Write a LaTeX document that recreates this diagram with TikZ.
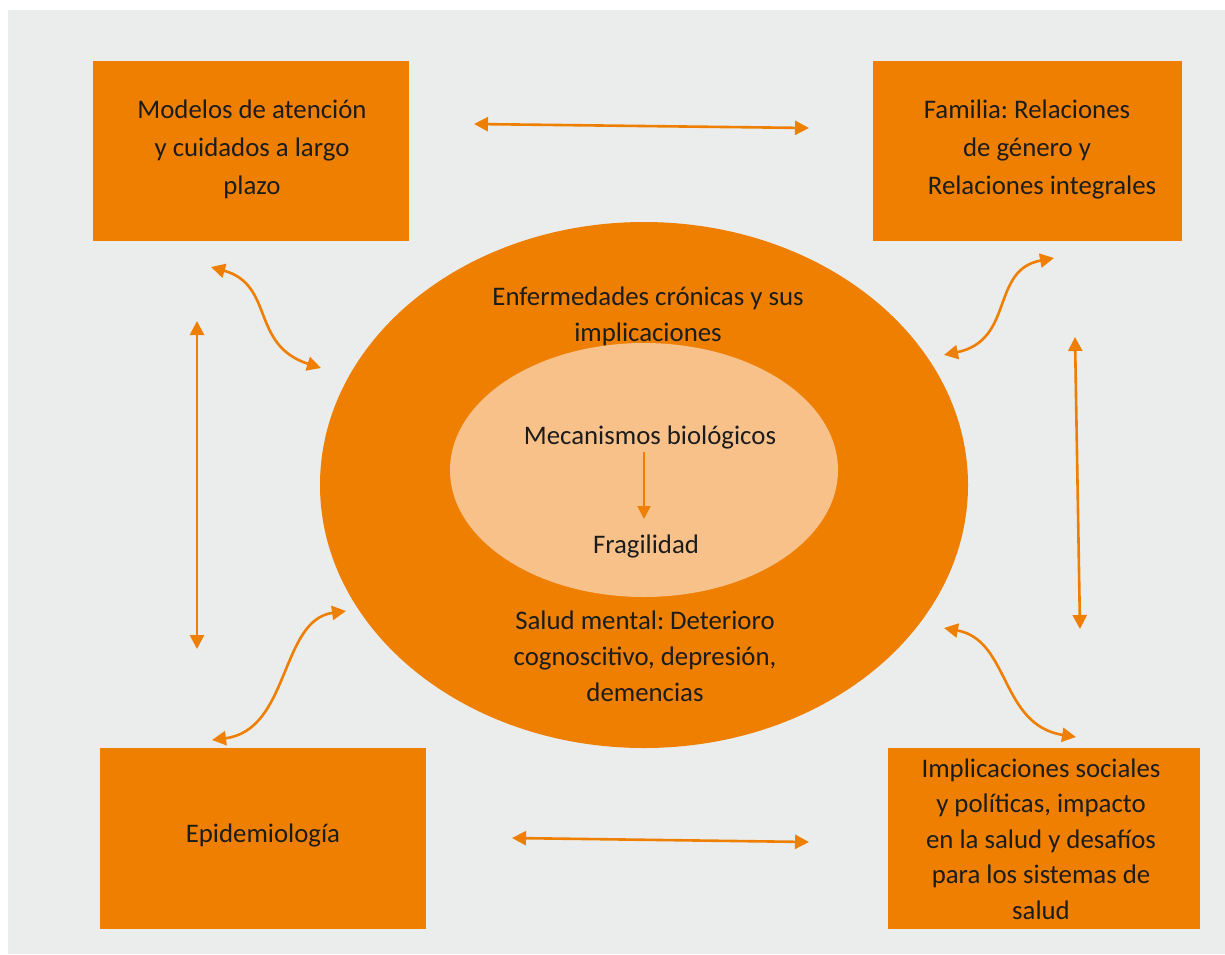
\documentclass[tikz,border=0pt]{standalone}
\usepackage{fontspec}
\setmainfont{Carlito}
\frenchspacing
\usetikzlibrary{shapes.geometric,arrows.meta}
\definecolor{ora}{HTML}{EE7F00}
\definecolor{peach}{HTML}{F8C18A}
\definecolor{bg}{HTML}{EBECEC}
\definecolor{ink}{HTML}{1C1C1C}
\begin{document}
\begin{tikzpicture}[x=1pt,y=-1pt,
  box/.style={rectangle,fill=ora,draw=ora,inner sep=0pt},
  lbl/.style={text=ink,align=center,font=\fontsize{26.8}{38}\selectfont,inner sep=0pt},
  elbl/.style={text=ink,align=center,font=\fontsize{26.8}{36}\selectfont,inner sep=0pt},
  link/.style={draw=ora,line width=2.6pt,{Triangle[length=14pt,width=14pt]}-{Triangle[length=14pt,width=14pt]}},
  oneway/.style={draw=ora,line width=2pt,-{Triangle[length=13pt,width=13pt]}}]
\useasboundingbox (0,0) rectangle (1225,954);
\fill[white] (0,0) rectangle (1225,954);
\fill[bg] (8,10) rectangle (1225,954);

% corner boxes
\node[box,minimum width=315pt,minimum height=179pt] (tl) at (250.5,150.5) {};
\node[box,minimum width=308pt,minimum height=179pt] (tr) at (1027,150.5) {};
\node[box,minimum width=325pt,minimum height=180pt] (bl) at (262.5,838) {};
\node[box,minimum width=311pt,minimum height=180pt] (br) at (1043.5,838) {};

\node[lbl] (tltext) at (252,149) {Modelos de atención\\y cuidados a largo\\plazo};
\node[lbl] (trtext) at (1027,149) {Familia: Relaciones\\de género y\hspace{30pt}\\\hspace{30pt}Relaciones integrales};
\node[lbl] (bltext) at (263,835) {Epidemiología};
\node[lbl,font=\fontsize{26.8}{35.5}\selectfont] (brtext) at (1041,839) {Implicaciones sociales\\y políticas, impacto\\en la salud y desafíos\\para los sistemas de\\salud};

% central ellipses
\node[ellipse,fill=ora,minimum width=648pt,minimum height=526pt,inner sep=0pt] (outer) at (644,485) {};
\node[ellipse,fill=peach,minimum width=388pt,minimum height=254pt,inner sep=0pt] (inner) at (644,470) {};

\node[elbl] (cron) at (648,316) {Enfermedades crónicas y sus\\implicaciones};
\node[elbl] (meca) at (650,437) {Mecanismos biológicos};
\node[elbl] (frag) at (646,546) {Fragilidad};
\node[elbl] (salud) at (645,656) {Salud mental: Deterioro\\cognoscitivo, depresión,\\demencias};

\draw[oneway] (meca.south -| inner.center) ++(0,3) -- (644,519);

% arrow end points
\coordinate (a1) at (474,124);
\coordinate (a2) at (809,128);
\coordinate (b1) at (512,838);
\coordinate (b2) at (809,842);
\coordinate (c1) at (197,321);
\coordinate (c2) at (197,649);
\coordinate (d1) at (1075,337);
\coordinate (d2) at (1080,629);
\coordinate (e1) at (211,267);
\coordinate (e2) at (321,368);
\coordinate (f1) at (1054,258);
\coordinate (f2) at (944,355);
\coordinate (g1) at (346,611);
\coordinate (g2) at (212,740);
\coordinate (h1) at (944,628);
\coordinate (h2) at (1076,737);

\draw[link] (a1) -- (a2);
\draw[link] (b1) -- (b2);
\draw[link] (c1) -- (c2);
\draw[link] (d1) -- (d2);
\draw[link] (e1) .. controls (275,285) and (250,345) .. (e2);
\draw[link] (f1) .. controls (990,270) and (1015,340) .. (f2);
\draw[link] (g1) .. controls (280,620) and (290,730) .. (g2);
\draw[link] (h1) .. controls (1010,640) and (1000,725) .. (h2);
\end{tikzpicture}
\end{document}
